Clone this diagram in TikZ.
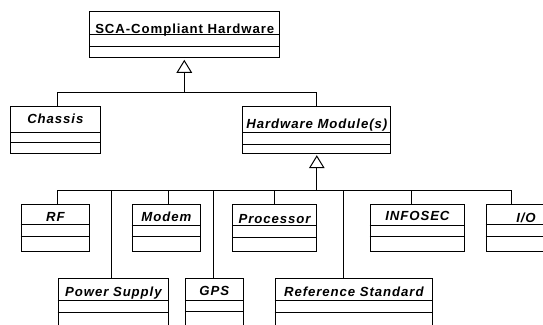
\documentclass[tikz,border=0pt]{standalone}
\usepackage{fontspec}
\setmainfont{Liberation Sans}
\newfontfamily\umlfont[LetterSpace=7]{Liberation Sans}
\usetikzlibrary{arrows.meta}
\tikzset{
  umlclass/.style={draw, line width=1pt, inner sep=0pt, anchor=north west,
                   font=\umlfont\fontsize{13.2}{15}\selectfont\bfseries\itshape, align=center},
  umlline/.style={line width=1pt},
  inherit/.style={line width=1pt, -{Triangle[open, length=13pt, width=15.6pt]}, shorten >=1.5pt},
}
\begin{document}
\begin{tikzpicture}[x=1pt, y=-1pt]
  \useasboundingbox (0,0) rectangle (543,324);
  \clip (0,0) rectangle (543,324);

  % classes
  \node[umlclass, font=\umlfont\fontsize{13.2}{15}\selectfont\bfseries, minimum width=190pt, text height=22.6pt, text depth=24pt] (sca) at (89.3,10.7) {SCA-Compliant Hardware};
  \node[umlclass, minimum width=89.3pt, text height=17.3pt, text depth=29.7pt] (chassis) at (10.2,105.7) {Chassis};
  \node[umlclass, minimum width=147.8pt, text height=22pt, text depth=25pt] (hwmod) at (242.4,105.7) {Hardware Module(s)};

  \node[umlclass, minimum width=68.6pt, text height=16.7pt, text depth=30.3pt] (rf) at (20.7,204) {RF};
  \node[umlclass, minimum width=68.5pt, text height=17pt, text depth=30pt] (modem) at (131.6,204) {Modem};
  \node[umlclass, minimum width=84.1pt, text height=18.7pt, text depth=28.3pt] (proc) at (232,204) {Processor};
  \node[umlclass, minimum width=94.8pt, text height=16pt, text depth=31pt] (infosec) at (369.5,204) {INFOSEC};
  \node[umlclass, minimum width=80pt, text height=18.3pt, text depth=28.7pt] (io) at (485.5,204) {I/O};

  \node[umlclass, minimum width=110.8pt, text height=18pt, text depth=29pt] (power) at (57.5,278.3) {Power Supply};
  \node[umlclass, minimum width=57.8pt, text height=16.7pt, text depth=30.3pt] (gps) at (184.8,278.3) {GPS};
  \node[umlclass, minimum width=157.5pt, text height=18pt, text depth=29pt] (refstd) at (274.6,278.3) {Reference Standard};

  % compartments
  \foreach \n/\a/\b in {sca/23.6/35.6, chassis/26.3/37, hwmod/26.6/38.3,
                        rf/20.3/32.7, modem/21.7/32.7, proc/21.7/33.3, infosec/21.3/32.7, io/20.3/32,
                        power/22.4/34, gps/21.7/32.7, refstd/22.4/34}
  {
    \draw[umlline] ([yshift=-\a pt]\n.north west) -- ([yshift=-\a pt]\n.north east);
    \draw[umlline] ([yshift=-\b pt]\n.north west) -- ([yshift=-\b pt]\n.north east);
  }

  % junctions
  \coordinate (top-hub) at (184.3,92.3);
  \coordinate (top-chassis) at (57.5,92.3);
  \coordinate (top-hwmod) at (316.8,92.3);
  \coordinate (mod-hub) at (316.8,190);
  \coordinate (mod-rf) at (57.5,190);
  \coordinate (mod-power) at (111.5,190);
  \coordinate (mod-modem) at (168.6,190);
  \coordinate (mod-gps) at (213.5,190);
  \coordinate (mod-proc) at (274.6,190);
  \coordinate (mod-refstd) at (343.8,190);
  \coordinate (mod-infosec) at (411.4,190);
  \coordinate (mod-io) at (511.8,190);

  % generalizations
  \draw[inherit] (top-hub) -- (top-hub |- sca.south);
  \draw[umlline] (top-chassis) -- (top-hwmod);
  \draw[umlline] (top-chassis) -- (top-chassis |- chassis.north);
  \draw[umlline] (top-hwmod) -- (top-hwmod |- hwmod.north);

  \draw[inherit] (mod-hub) -- (mod-hub |- hwmod.south);
  \draw[umlline] (mod-rf) -- (mod-io);
  \foreach \n in {rf, power, modem, gps, proc, refstd, infosec, io}
    \draw[umlline] (mod-\n) -- (mod-\n |- \n.north);

\end{tikzpicture}
\end{document}
